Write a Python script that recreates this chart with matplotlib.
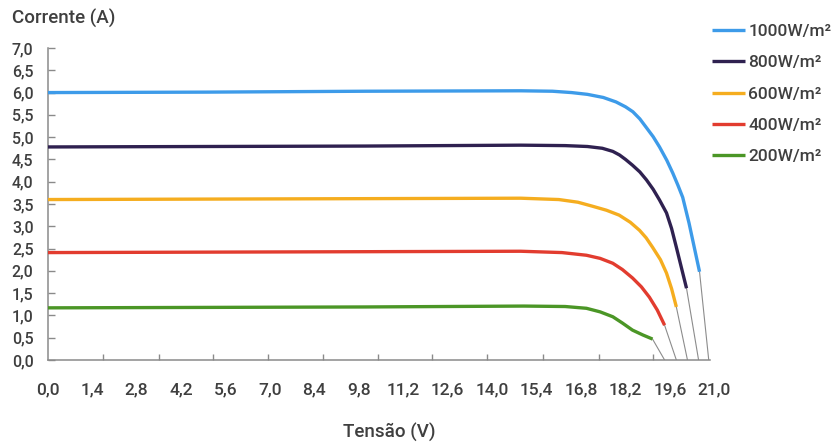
import matplotlib
matplotlib.use("Agg")
import matplotlib.pyplot as plt

plt.rcParams['font.family'] = ['Roboto', 'DejaVu Sans']
plt.rcParams['font.weight'] = 'medium'

# I-V curves: tensão (V) vs corrente (A)
v_1000 = [0.0, 5.0, 10.0, 14.9, 15.9, 16.5, 17.0, 17.5, 17.9, 18.2, 18.43, 18.65, 18.85,
          19.07, 19.27, 19.5, 19.69, 19.85, 20.0, 20.2, 20.53]
i_1000 = [6.00, 6.01, 6.03, 6.04, 6.03, 6.00, 5.96, 5.89, 5.79, 5.68, 5.57, 5.41, 5.22,
          5.01, 4.78, 4.48, 4.19, 3.92, 3.65, 3.07, 1.98]

v_800 = [0.0, 5.0, 10.0, 14.9, 16.3, 17.0, 17.47, 17.8, 18.01, 18.2, 18.42, 18.65, 18.86,
         19.07, 19.27, 19.49, 19.65, 19.8, 20.12]
i_800 = [4.78, 4.79, 4.80, 4.82, 4.81, 4.79, 4.75, 4.68, 4.60, 4.50, 4.37, 4.22, 4.04,
         3.83, 3.59, 3.30, 2.95, 2.53, 1.61]

v_600 = [0.0, 5.0, 10.0, 14.9, 16.1, 16.7, 17.16, 17.6, 18.0, 18.35, 18.64, 18.85, 19.05,
         19.3, 19.49, 19.65, 19.8]
i_600 = [3.60, 3.61, 3.62, 3.63, 3.60, 3.54, 3.45, 3.36, 3.25, 3.09, 2.91, 2.74, 2.53,
         2.25, 1.95, 1.60, 1.19]

v_400 = [0.0, 5.0, 10.0, 14.9, 16.2, 16.97, 17.4, 17.8, 18.1, 18.42, 18.7, 18.95, 19.2, 19.43]
i_400 = [2.41, 2.42, 2.43, 2.44, 2.41, 2.35, 2.28, 2.17, 2.03, 1.84, 1.64, 1.41, 1.12, 0.78]

v_200 = [0.0, 5.0, 10.0, 15.0, 16.3, 16.97, 17.4, 17.8, 18.1, 18.42, 18.75, 19.05]
i_200 = [1.17, 1.18, 1.19, 1.21, 1.20, 1.16, 1.08, 0.97, 0.83, 0.67, 0.56, 0.47]

# thin grey tails end on the axis at these voltages
voc = [20.82, 20.5, 20.15, 19.8, 19.43]

labels = ["1000W/m²", "800W/m²", "600W/m²", "400W/m²", "200W/m²"]
colors = ["#3d9be9", "#2f2150", "#f5ad1f", "#e23c2f", "#4b9626"]

x_ticks = [0.0, 1.4, 2.8, 4.2, 5.6, 7.0, 8.4, 9.8, 11.2, 12.6, 14.0, 15.4, 16.8, 18.2, 19.6, 21.0]
x_marks = [1.76, 3.50, 5.20, 6.93, 8.66, 10.42, 12.12, 13.85, 15.59, 17.35, 19.05]
y_ticks = [0.0, 0.5, 1.0, 1.5, 2.0, 2.5, 3.0, 3.5, 4.0, 4.5, 5.0, 5.5, 6.0, 6.5, 7.0]

txt = "#3f3f3f"
axis_col = "#8a8a8a"

fig = plt.figure(figsize=(8.36, 4.43), dpi=100)
ax = fig.add_axes([47.5 / 836, 83 / 443, 21.2 * 31.76 / 836, 312 / 443])

series = [(v_1000, i_1000), (v_800, i_800), (v_600, i_600), (v_400, i_400), (v_200, i_200)]
handles = []
for (v, i), c, lab, vo in zip(series, colors, labels, voc):
    ax.plot([v[-1], vo], [i[-1], 0], color="#8c8c8c", lw=0.8, zorder=2)
    h, = ax.plot(v, i, color=c, lw=2.4, solid_capstyle="butt", solid_joinstyle="round",
                 label=lab, zorder=3)
    handles.append(h)

ax.set_xlim(0, 21.2)
ax.set_ylim(0, 7.0)
for s in ["top", "right"]:
    ax.spines[s].set_visible(False)
for s in ["left", "bottom"]:
    ax.spines[s].set_color(axis_col)
    ax.spines[s].set_linewidth(1.1)
ax.spines["bottom"].set_bounds(0, 20.85)

ax.set_yticks(y_ticks)
ax.set_yticklabels([f"{y:.1f}".replace(".", ",") for y in y_ticks])
ax.tick_params(axis="y", direction="in", length=5, width=1, color=axis_col,
               pad=10, labelsize=11.5, labelcolor=txt)

ax.set_xticks(x_ticks)
ax.set_xticklabels([f"{x:.1f}".replace(".", ",") for x in x_ticks])
ax.set_xticks(x_marks, minor=True)
ax.tick_params(axis="x", which="major", length=0, pad=16, labelsize=12.5, labelcolor=txt)
ax.tick_params(axis="x", which="minor", direction="in", length=4, width=1, color=axis_col)

fig.text(12 / 836, 1 - 18 / 443, "Corrente (A)", fontsize=13.5, color=txt, va="center", ha="left")
fig.text(389 / 836, 1 - 432 / 443, "Tensão (V)", fontsize=13.5, color=txt, va="center", ha="center")

ax.legend(handles=handles, loc="upper left", bbox_to_anchor=(712 / 836, 1 - 24 / 443),
          bbox_transform=fig.transFigure, frameon=False, borderpad=0, borderaxespad=0,
          handlelength=1.9, handletextpad=0.2, labelspacing=0.93, fontsize=12.5,
          labelcolor=txt)

fig.savefig("out.png", dpi=100, facecolor="white")
